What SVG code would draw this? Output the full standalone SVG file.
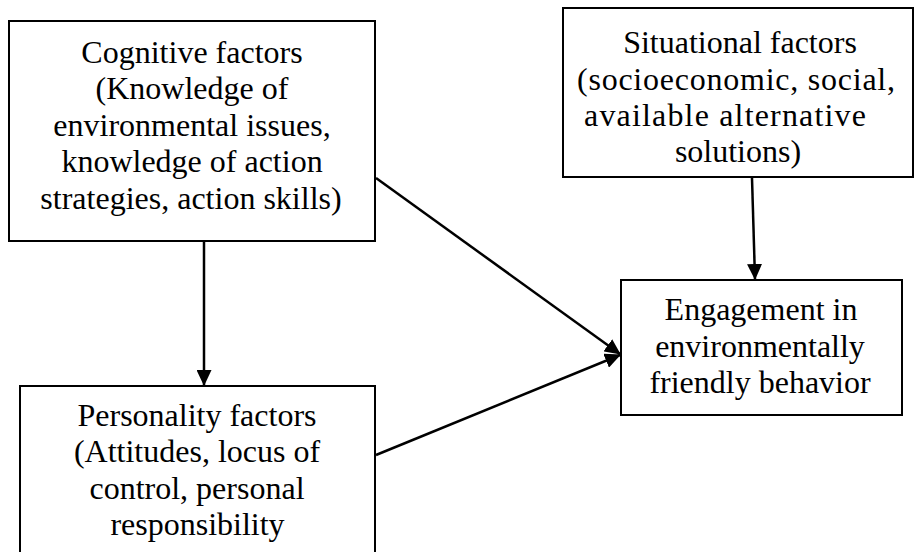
<svg xmlns="http://www.w3.org/2000/svg" width="915" height="552" viewBox="0 0 915 552">
  <style>
    .box { fill: #ffffff; stroke: #000000; stroke-width: 2; }
    .lbl { font-family: "Liberation Serif", "Times New Roman", serif; font-size: 32px; fill: #000000; text-anchor: middle; }
    .conn { stroke: #000000; stroke-width: 2.5; fill: none; marker-end: url(#arrow); }
  </style>
  <defs>
    <marker id="arrow" markerUnits="userSpaceOnUse" markerWidth="16" markerHeight="15" viewBox="0 0 16 15" refX="15" refY="7.5" orient="auto">
      <path d="M0,0 L16,7.5 L0,15 Z" fill="#000000"/>
    </marker>
  </defs>

  <rect width="915" height="552" fill="#ffffff"/>

  <g id="cognitive">
    <rect class="box" x="9" y="21" width="366" height="220"/>
    <text class="lbl" x="192" y="63">Cognitive factors</text>
    <text class="lbl" x="192" y="99">(Knowledge of</text>
    <text class="lbl" x="192" y="136">environmental issues,</text>
    <text class="lbl" x="192" y="172">knowledge of action</text>
    <text class="lbl" x="191" y="209">strategies, action skills)</text>
  </g>

  <g id="situational">
    <rect class="box" x="563" y="8" width="350" height="169"/>
    <text class="lbl" x="740" y="53">Situational factors</text>
    <text class="lbl" x="736" y="90" textLength="318" lengthAdjust="spacing">(socioeconomic, social,</text>
    <text class="lbl" x="725" y="126" textLength="282" lengthAdjust="spacing">available alternative</text>
    <text class="lbl" x="738" y="162">solutions)</text>
  </g>

  <g id="engagement">
    <rect class="box" x="621" y="280" width="281" height="135"/>
    <text class="lbl" x="761" y="320">Engagement in</text>
    <text class="lbl" x="760" y="357">environmentally</text>
    <text class="lbl" x="760" y="393">friendly behavior</text>
  </g>

  <g id="personality">
    <rect class="box" x="20" y="386" width="355" height="200"/>
    <text class="lbl" x="197" y="426">Personality factors</text>
    <text class="lbl" x="197" y="462">(Attitudes, locus of</text>
    <text class="lbl" x="197" y="499">control, personal</text>
    <text class="lbl" x="197.5" y="535">responsibility</text>
  </g>

  <g id="connectors">
    <line class="conn" x1="204" y1="242" x2="204" y2="385"/>
    <line class="conn" x1="376" y1="178" x2="620" y2="354"/>
    <line class="conn" x1="376" y1="455" x2="620" y2="355"/>
    <line class="conn" x1="752" y1="178" x2="755" y2="279"/>
  </g>
</svg>
